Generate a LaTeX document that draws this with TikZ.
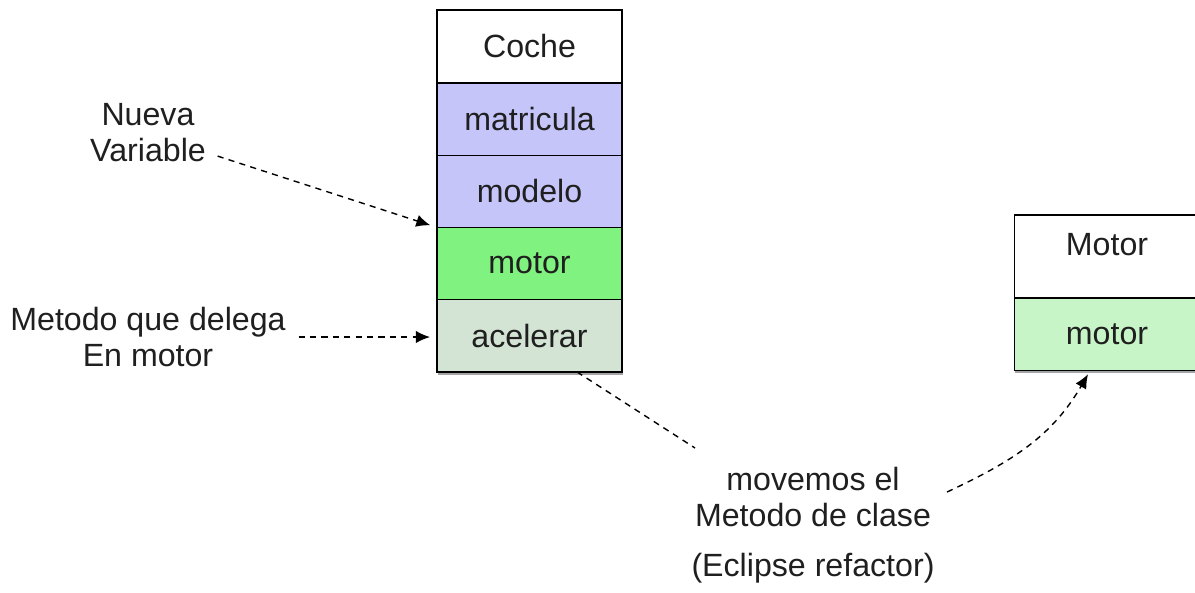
\documentclass[tikz,border=0pt]{standalone}
\usepackage{fontspec}
\setmainfont{Liberation Sans}
\usepackage{tikz}
\usetikzlibrary{positioning,arrows.meta,shadows}
\definecolor{attrBlue}{RGB}{197,197,249}
\definecolor{refGreen}{RGB}{128,242,128}
\definecolor{methodGrey}{RGB}{212,228,212}
\definecolor{attrGreen}{RGB}{200,245,200}
\newcommand{\classWidth}[0]{3.7cm}
\newcommand{\rowHeight}[0]{1.445cm}

\begin{document}
\begin{tikzpicture}[x=0.02cm, y=-0.02cm]
  \tikzset{every node/.style={font=\fontsize{18.3pt}{20.5pt}\selectfont, text=black!88},
    classrow/.style={draw, line width=0.8pt, rectangle, outer sep=0pt, inner sep=0pt,
      minimum width=\classWidth, minimum height=\rowHeight},
    lastrow/.style={classrow, drop shadow={shadow xshift=0.4pt, shadow yshift=-1.6pt, fill=black!70}},
    note/.style={align=center, inner sep=2pt},
    dashline/.style={line width=0.8pt, dash pattern=on 3.5pt off 3pt},
    dasharrow/.style={dashline, -{Latex[length=8pt,width=7pt]}}}
  \useasboundingbox (0,0) rectangle (1195,592);
  \node[classrow, anchor=north, minimum height=1.46cm] (Coche) at (529.5,10) {Coche};
  \node[classrow, fill=attrBlue, below=0pt of Coche] (Coche-matricula) {matricula};
  \node[classrow, fill=attrBlue, below=0pt of Coche-matricula] (Coche-modelo) {modelo};
  \node[classrow, fill=refGreen, below=0pt of Coche-modelo] (Coche-motor) {motor};
  \node[lastrow, fill=methodGrey, below=0pt of Coche-motor] (Coche-acelerar) {acelerar};
  \node[classrow, anchor=north, minimum height=1.66cm, text depth=0.5cm] (Motor) at (1107,215) {Motor};
  \node[lastrow, fill=attrGreen, below=0pt of Motor] (Motor-motor) {motor};
  \node[note] (nueva-var) at (148,133) {Nueva\\Variable};
  \node[note] (metodo-delega) at (148,337) {Metodo que delega\\En motor};
  \node[note] (movemos) at (813,497) {movemos el\\Metodo de clase};
  \node[note, below=0.38cm of movemos] (eclipse) {(Eclipse refactor)};
  \coordinate (move-gap-a) at (695,448);
  \coordinate (move-gap-b) at (947,492);
  \draw[dasharrow, shorten >=0.14cm] ([xshift=0.16cm,yshift=0.2cm]nueva-var.south east) -- (Coche-motor.north west);
  \draw[dasharrow, shorten <=0.18cm, shorten >=0.14cm] (metodo-delega.east) -- (metodo-delega.east -| Coche-acelerar.west);
  \draw[dashline] ([xshift=0.95cm]Coche-acelerar.south) -- (move-gap-a);
  \draw[dasharrow] (move-gap-b) to[out=25, in=-120] ([xshift=-0.38cm,yshift=-0.08cm]Motor-motor.south);
\end{tikzpicture}
\end{document}
